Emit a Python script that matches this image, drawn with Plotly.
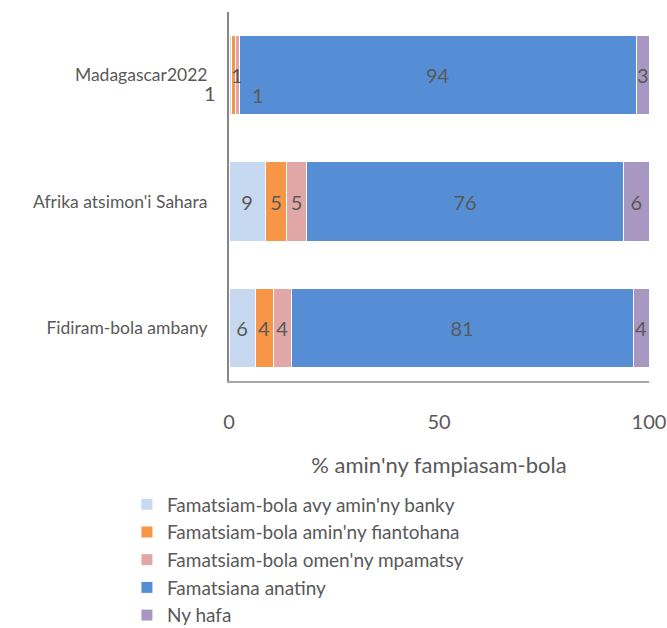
import plotly.graph_objects as go

categories = ["Madagascar2022", "Afrika atsimon'i Sahara", "Fidiram-bola ambany"]
series_names = [
    "Famatsiam-bola avy amin'ny banky",
    "Famatsiam-bola amin'ny fiantohana",
    "Famatsiam-bola omen'ny mpamatsy",
    "Famatsiana anatiny",
    "Ny hafa",
]
banky = [0.7, 8.6, 6.2]
fiantohana = [0.8, 5.2, 4.3]
mpamatsy = [0.9, 4.6, 4.3]
anatiny = [94.6, 75.6, 81.4]
hafa = [3.0, 6.0, 3.8]
labels_banky = [1, 9, 6]
labels_fiantohana = [1, 5, 4]
labels_mpamatsy = [1, 5, 4]
labels_anatiny = [94, 76, 81]
labels_hafa = [3, 6, 4]
x_ticks = [0, 50, 100]

colors = ["#c6d9f0", "#f79646", "#e0a7a6", "#558ed5", "#a897c1"]
series = [banky, fiantohana, mpamatsy, anatiny, hafa]
labels = [labels_banky, labels_fiantohana, labels_mpamatsy, labels_anatiny, labels_hafa]

FONT = "Lato"
TXT = "#595959"
LBL = 20

fig = go.Figure()
for name, vals, lab, col in zip(series_names, series, labels, colors):
    # the first category (tiny segments) gets offset annotations instead of inside text
    txt = [("" if (i == 0 and v < 2) else str(l)) for i, (v, l) in enumerate(zip(vals, lab))]
    fig.add_trace(go.Bar(
        y=categories, x=vals, name=name, orientation="h",
        marker=dict(color=col, line=dict(color="white", width=1)),
        text=txt, textposition="inside", insidetextanchor="middle",
        textfont=dict(family=FONT, size=LBL, color=TXT),
        textangle=0, constraintext="none", cliponaxis=False,
    ))

# offset labels for tiny Madagascar segments
cum = 0
shifts = [(-20, -18), (3, 0), (21, -20)]
for k in range(3):
    v = series[k][0]
    mid = cum + v / 2
    cum += v
    fig.add_annotation(x=mid, y=categories[0], text=str(labels[k][0]), showarrow=False,
                       xshift=shifts[k][0], yshift=shifts[k][1],
                       font=dict(family=FONT, size=LBL, color=TXT))

fig.update_layout(
    barmode="stack", bargap=0.37,
    width=667, height=628,
    margin=dict(l=229, r=18, t=12, b=247, autoexpand=False),
    plot_bgcolor="white", paper_bgcolor="white",
    font=dict(family=FONT, color=TXT),
    uniformtext=dict(minsize=LBL, mode="show"),
    legend=dict(orientation="v", x=-0.243, xanchor="left", y=-0.283, yanchor="top",
                font=dict(family=FONT, size=19, color=TXT), traceorder="normal",
                itemwidth=30, tracegroupgap=0),
    showlegend=True,
)
fig.update_xaxes(range=[0, 100], tickvals=x_ticks, showgrid=False, zeroline=False,
                 showline=True, linecolor="#a6a6a6", linewidth=2,
                 ticks="", ticklabelstandoff=22, automargin=False,
                 ticklabeloverflow="allow",
                 tickfont=dict(family=FONT, size=20, color=TXT),
                 title=dict(text="% amin'ny fampiasam-bola", standoff=26,
                            font=dict(family=FONT, size=22, color=TXT)))
fig.update_yaxes(categoryorder="array", categoryarray=categories,
                 range=[2.42, -0.5], showgrid=False, showline=True, automargin=False,
                 linecolor="#868686", linewidth=2, ticks="", ticklabelstandoff=16,
                 tickfont=dict(family=FONT, size=17.5, color=TXT))

fig.write_html("out.html", config={"displayModeBar": False},
               post_script="document.body.style.margin='0';document.body.style.overflow='hidden';")
